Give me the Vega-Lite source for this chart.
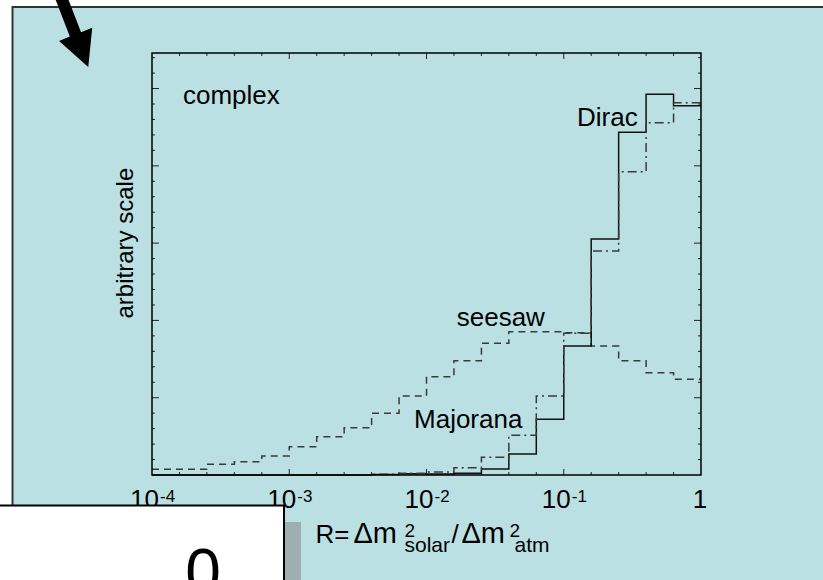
{
  "$schema": "https://vega.github.io/schema/vega-lite/v6.json",
  "width": 549,
  "height": 422,
  "autosize": "none",
  "padding": {"left": 152, "top": 53, "right": 122, "bottom": 105},
  "background": "white",
  "config": {"view": {"stroke": null}, "axis": {"disable": true}, "legend": {"disable": true}, "text": {"font": "Liberation Sans", "color": "black"}},
  "datasets": {
    "xminor": [{"v": 0.0001585}, {"v": 0.0002512}, {"v": 0.0003981}, {"v": 0.000631}, {"v": 0.001585}, {"v": 0.002512}, {"v": 0.003981}, {"v": 0.00631}, {"v": 0.01585}, {"v": 0.02512}, {"v": 0.03981}, {"v": 0.0631}, {"v": 0.1585}, {"v": 0.2512}, {"v": 0.3981}, {"v": 0.631}],
    "xmajor": [{"v": 0.001}, {"v": 0.01}, {"v": 0.1}],
    "yminor": [{"v": 0.2}, {"v": 0.4}, {"v": 0.6}, {"v": 0.8}, {"v": 1.2}, {"v": 1.4}, {"v": 1.6}, {"v": 1.8}, {"v": 2.2}, {"v": 2.4}, {"v": 2.6}, {"v": 2.8}, {"v": 3.2}, {"v": 3.4}, {"v": 3.6}, {"v": 3.8}, {"v": 4.2}, {"v": 4.4}, {"v": 4.6}, {"v": 4.8}, {"v": 5.2}, {"v": 5.4}],
    "ymajor": [{"v": 1}, {"v": 2}, {"v": 3}, {"v": 4}, {"v": 5}],
    "hist": [
      {"series": "seesaw", "x": 0.0001, "y": 0.074},
      {"series": "seesaw", "x": 0.0001585, "y": 0.074},
      {"series": "seesaw", "x": 0.0002512, "y": 0.138},
      {"series": "seesaw", "x": 0.0003981, "y": 0.172},
      {"series": "seesaw", "x": 0.000631, "y": 0.246},
      {"series": "seesaw", "x": 0.001, "y": 0.366},
      {"series": "seesaw", "x": 0.001585, "y": 0.496},
      {"series": "seesaw", "x": 0.002512, "y": 0.612},
      {"series": "seesaw", "x": 0.003981, "y": 0.798},
      {"series": "seesaw", "x": 0.00631, "y": 1.022},
      {"series": "seesaw", "x": 0.01, "y": 1.272},
      {"series": "seesaw", "x": 0.01585, "y": 1.479},
      {"series": "seesaw", "x": 0.02512, "y": 1.704},
      {"series": "seesaw", "x": 0.03981, "y": 1.854},
      {"series": "seesaw", "x": 0.0631, "y": 1.854},
      {"series": "seesaw", "x": 0.1, "y": 1.841},
      {"series": "seesaw", "x": 0.1585, "y": 1.669},
      {"series": "seesaw", "x": 0.2512, "y": 1.479},
      {"series": "seesaw", "x": 0.3981, "y": 1.324},
      {"series": "seesaw", "x": 0.631, "y": 1.238},
      {"series": "seesaw", "x": 1, "y": 1.238},
      {"series": "Dirac", "x": 0.0001, "y": 0},
      {"series": "Dirac", "x": 0.003981, "y": 0.005},
      {"series": "Dirac", "x": 0.00631, "y": 0.017},
      {"series": "Dirac", "x": 0.01, "y": 0.013},
      {"series": "Dirac", "x": 0.01585, "y": 0.022},
      {"series": "Dirac", "x": 0.02512, "y": 0.078},
      {"series": "Dirac", "x": 0.03981, "y": 0.272},
      {"series": "Dirac", "x": 0.0631, "y": 0.721},
      {"series": "Dirac", "x": 0.1, "y": 1.669},
      {"series": "Dirac", "x": 0.1585, "y": 3.053},
      {"series": "Dirac", "x": 0.2512, "y": 4.434},
      {"series": "Dirac", "x": 0.3981, "y": 4.926},
      {"series": "Dirac", "x": 0.631, "y": 4.778},
      {"series": "Dirac", "x": 1, "y": 4.778},
      {"series": "Majorana", "x": 0.0001, "y": 0},
      {"series": "Majorana", "x": 0.003981, "y": 0.01},
      {"series": "Majorana", "x": 0.00631, "y": 0.022},
      {"series": "Majorana", "x": 0.01, "y": 0.04},
      {"series": "Majorana", "x": 0.01585, "y": 0.094},
      {"series": "Majorana", "x": 0.02512, "y": 0.229},
      {"series": "Majorana", "x": 0.03981, "y": 0.514},
      {"series": "Majorana", "x": 0.0631, "y": 1.022},
      {"series": "Majorana", "x": 0.1, "y": 1.833},
      {"series": "Majorana", "x": 0.1585, "y": 2.898},
      {"series": "Majorana", "x": 0.2512, "y": 3.924},
      {"series": "Majorana", "x": 0.3981, "y": 4.558},
      {"series": "Majorana", "x": 0.631, "y": 4.817},
      {"series": "Majorana", "x": 1, "y": 4.817}
    ],
    "ticklabels": [
      {"v": 0.0001, "b": "10", "e": "-4"},
      {"v": 0.001, "b": "10", "e": "-3"},
      {"v": 0.01, "b": "10", "e": "-2"},
      {"v": 0.1, "b": "10", "e": "-1"}
    ],
    "notes": [
      {"t": "complex", "x": 0.000168, "y": 4.80},
      {"t": "Dirac", "x": 0.1249, "y": 4.519},
      {"t": "seesaw", "x": 0.0166, "y": 1.928},
      {"t": "Majorana", "x": 0.00811, "y": 0.612}
    ],
    "one": [{}]
  },
  "layer": [
    {
      "data": {"name": "one"},
      "mark": {"type": "rect", "fill": "#BBE0E3", "stroke": "#333333", "strokeWidth": 2},
      "encoding": {
        "x": {"datum": 0.00000963, "type": "quantitative", "scale": {"type": "log", "domain": [0.0001, 1]}},
        "x2": {"datum": 100},
        "y": {"datum": 6.055, "type": "quantitative", "scale": {"domain": [0, 5.46], "nice": false, "zero": false}},
        "y2": {"datum": -2}
      }
    },
    {
      "data": {"name": "xminor"},
      "mark": {"type": "rule", "color": "#222222", "strokeWidth": 1},
      "encoding": {
        "x": {"field": "v", "type": "quantitative", "scale": {"type": "log", "domain": [0.0001, 1]}},
        "y": {"datum": 0, "type": "quantitative", "scale": {"domain": [0, 5.46], "nice": false, "zero": false}},
        "y2": {"datum": 0.0388}
      }
    },
    {
      "data": {"name": "xminor"},
      "mark": {"type": "rule", "color": "#222222", "strokeWidth": 1},
      "encoding": {
        "x": {"field": "v", "type": "quantitative", "scale": {"type": "log", "domain": [0.0001, 1]}},
        "y": {"datum": 5.46, "type": "quantitative", "scale": {"domain": [0, 5.46], "nice": false, "zero": false}},
        "y2": {"datum": 5.4212}
      }
    },
    {
      "data": {"name": "xmajor"},
      "mark": {"type": "rule", "color": "#222222", "strokeWidth": 1},
      "encoding": {
        "x": {"field": "v", "type": "quantitative", "scale": {"type": "log", "domain": [0.0001, 1]}},
        "y": {"datum": 0, "type": "quantitative", "scale": {"domain": [0, 5.46], "nice": false, "zero": false}},
        "y2": {"datum": 0.0776}
      }
    },
    {
      "data": {"name": "xmajor"},
      "mark": {"type": "rule", "color": "#222222", "strokeWidth": 1},
      "encoding": {
        "x": {"field": "v", "type": "quantitative", "scale": {"type": "log", "domain": [0.0001, 1]}},
        "y": {"datum": 5.46, "type": "quantitative", "scale": {"domain": [0, 5.46], "nice": false, "zero": false}},
        "y2": {"datum": 5.3824}
      }
    },
    {
      "data": {"name": "yminor"},
      "mark": {"type": "rule", "color": "#222222", "strokeWidth": 1},
      "encoding": {
        "y": {"field": "v", "type": "quantitative", "scale": {"domain": [0, 5.46], "nice": false, "zero": false}},
        "x": {"datum": 0.0001, "type": "quantitative", "scale": {"type": "log", "domain": [0.0001, 1]}},
        "x2": {"datum": 0.00010516}
      }
    },
    {
      "data": {"name": "yminor"},
      "mark": {"type": "rule", "color": "#222222", "strokeWidth": 1},
      "encoding": {
        "y": {"field": "v", "type": "quantitative", "scale": {"domain": [0, 5.46], "nice": false, "zero": false}},
        "x": {"datum": 1, "type": "quantitative", "scale": {"type": "log", "domain": [0.0001, 1]}},
        "x2": {"datum": 0.9509}
      }
    },
    {
      "data": {"name": "ymajor"},
      "mark": {"type": "rule", "color": "#222222", "strokeWidth": 1},
      "encoding": {
        "y": {"field": "v", "type": "quantitative", "scale": {"domain": [0, 5.46], "nice": false, "zero": false}},
        "x": {"datum": 0.0001, "type": "quantitative", "scale": {"type": "log", "domain": [0.0001, 1]}},
        "x2": {"datum": 0.00011246}
      }
    },
    {
      "data": {"name": "ymajor"},
      "mark": {"type": "rule", "color": "#222222", "strokeWidth": 1},
      "encoding": {
        "y": {"field": "v", "type": "quantitative", "scale": {"domain": [0, 5.46], "nice": false, "zero": false}},
        "x": {"datum": 1, "type": "quantitative", "scale": {"type": "log", "domain": [0.0001, 1]}},
        "x2": {"datum": 0.8892}
      }
    },
    {
      "data": {"name": "hist"},
      "mark": {"type": "line", "interpolate": "step-after", "strokeWidth": 1.5},
      "encoding": {
        "x": {"field": "x", "type": "quantitative", "scale": {"type": "log", "domain": [0.0001, 1]}},
        "y": {"field": "y", "type": "quantitative", "scale": {"domain": [0, 5.46], "nice": false, "zero": false}},
        "color": {"field": "series", "type": "nominal", "scale": {"domain": ["seesaw", "Dirac", "Majorana"], "range": ["#3a3a3a", "#111111", "#3a3a3a"]}, "legend": null},
        "strokeDash": {"field": "series", "type": "nominal", "scale": {"domain": ["seesaw", "Dirac", "Majorana"], "range": [[7, 5], [1, 0], [9, 4, 2, 4]]}, "legend": null}
      }
    },
    {
      "data": {"name": "one"},
      "mark": {"type": "rect", "fill": null, "fillOpacity": 0, "stroke": "black", "strokeWidth": 1.5},
      "encoding": {
        "x": {"datum": 0.0001, "type": "quantitative", "scale": {"type": "log", "domain": [0.0001, 1]}},
        "x2": {"datum": 1},
        "y": {"datum": 0, "type": "quantitative", "scale": {"domain": [0, 5.46], "nice": false, "zero": false}},
        "y2": {"datum": 5.46}
      }
    },
    {
      "data": {"name": "notes"},
      "mark": {"type": "text", "align": "left", "baseline": "alphabetic", "fontSize": 26},
      "encoding": {
        "x": {"field": "x", "type": "quantitative", "scale": {"type": "log", "domain": [0.0001, 1]}},
        "y": {"field": "y", "type": "quantitative", "scale": {"domain": [0, 5.46], "nice": false, "zero": false}},
        "text": {"field": "t"}
      }
    },
    {
      "data": {"name": "ticklabels"},
      "mark": {"type": "text", "align": "right", "baseline": "alphabetic", "fontSize": 26, "dx": 7, "dy": 33},
      "encoding": {
        "x": {"field": "v", "type": "quantitative", "scale": {"type": "log", "domain": [0.0001, 1]}},
        "y": {"datum": 0, "type": "quantitative", "scale": {"domain": [0, 5.46], "nice": false, "zero": false}},
        "text": {"field": "b"}
      }
    },
    {
      "data": {"name": "ticklabels"},
      "mark": {"type": "text", "align": "left", "baseline": "alphabetic", "fontSize": 17, "dx": 8, "dy": 27},
      "encoding": {
        "x": {"field": "v", "type": "quantitative", "scale": {"type": "log", "domain": [0.0001, 1]}},
        "y": {"datum": 0, "type": "quantitative", "scale": {"domain": [0, 5.46], "nice": false, "zero": false}},
        "text": {"field": "e"}
      }
    },
    {
      "data": {"name": "one"},
      "mark": {"type": "text", "align": "center", "baseline": "alphabetic", "fontSize": 26, "dx": -1, "dy": 33, "text": "1"},
      "encoding": {
        "x": {"datum": 1, "type": "quantitative", "scale": {"type": "log", "domain": [0.0001, 1]}},
        "y": {"datum": 0, "type": "quantitative", "scale": {"domain": [0, 5.46], "nice": false, "zero": false}}
      }
    },
    {
      "data": {"name": "one"},
      "mark": {"type": "text", "align": "center", "baseline": "alphabetic", "fontSize": 24, "angle": 270, "text": "arbitrary scale"},
      "encoding": {
        "x": {"datum": 0.0000727, "type": "quantitative", "scale": {"type": "log", "domain": [0.0001, 1]}},
        "y": {"datum": 3.0, "type": "quantitative", "scale": {"domain": [0, 5.46], "nice": false, "zero": false}}
      }
    },
    {
      "data": {"name": "one"},
      "mark": {"type": "text", "align": "left", "baseline": "alphabetic", "fontSize": 26, "dx": -111, "dy": 68, "text": "R="},
      "encoding": {
        "x": {"datum": 0.01, "type": "quantitative", "scale": {"type": "log", "domain": [0.0001, 1]}},
        "y": {"datum": 0, "type": "quantitative", "scale": {"domain": [0, 5.46], "nice": false, "zero": false}}
      }
    },
    {
      "data": {"name": "one"},
      "mark": {"type": "text", "align": "left", "baseline": "alphabetic", "fontSize": 29, "dx": -73, "dy": 68, "text": "Δm"},
      "encoding": {
        "x": {"datum": 0.01, "type": "quantitative", "scale": {"type": "log", "domain": [0.0001, 1]}},
        "y": {"datum": 0, "type": "quantitative", "scale": {"domain": [0, 5.46], "nice": false, "zero": false}}
      }
    },
    {
      "data": {"name": "one"},
      "mark": {"type": "text", "align": "left", "baseline": "alphabetic", "fontSize": 19, "dx": -22, "dy": 62, "text": "2"},
      "encoding": {
        "x": {"datum": 0.01, "type": "quantitative", "scale": {"type": "log", "domain": [0.0001, 1]}},
        "y": {"datum": 0, "type": "quantitative", "scale": {"domain": [0, 5.46], "nice": false, "zero": false}}
      }
    },
    {
      "data": {"name": "one"},
      "mark": {"type": "text", "align": "left", "baseline": "alphabetic", "fontSize": 21, "dx": -22, "dy": 77, "text": "solar"},
      "encoding": {
        "x": {"datum": 0.01, "type": "quantitative", "scale": {"type": "log", "domain": [0.0001, 1]}},
        "y": {"datum": 0, "type": "quantitative", "scale": {"domain": [0, 5.46], "nice": false, "zero": false}}
      }
    },
    {
      "data": {"name": "one"},
      "mark": {"type": "text", "align": "left", "baseline": "alphabetic", "fontSize": 26, "dx": 25, "dy": 68, "text": "/"},
      "encoding": {
        "x": {"datum": 0.01, "type": "quantitative", "scale": {"type": "log", "domain": [0.0001, 1]}},
        "y": {"datum": 0, "type": "quantitative", "scale": {"domain": [0, 5.46], "nice": false, "zero": false}}
      }
    },
    {
      "data": {"name": "one"},
      "mark": {"type": "text", "align": "left", "baseline": "alphabetic", "fontSize": 29, "dx": 35, "dy": 68, "text": "Δm"},
      "encoding": {
        "x": {"datum": 0.01, "type": "quantitative", "scale": {"type": "log", "domain": [0.0001, 1]}},
        "y": {"datum": 0, "type": "quantitative", "scale": {"domain": [0, 5.46], "nice": false, "zero": false}}
      }
    },
    {
      "data": {"name": "one"},
      "mark": {"type": "text", "align": "left", "baseline": "alphabetic", "fontSize": 19, "dx": 83, "dy": 62, "text": "2"},
      "encoding": {
        "x": {"datum": 0.01, "type": "quantitative", "scale": {"type": "log", "domain": [0.0001, 1]}},
        "y": {"datum": 0, "type": "quantitative", "scale": {"domain": [0, 5.46], "nice": false, "zero": false}}
      }
    },
    {
      "data": {"name": "one"},
      "mark": {"type": "text", "align": "left", "baseline": "alphabetic", "fontSize": 21, "dx": 88, "dy": 77, "text": "atm"},
      "encoding": {
        "x": {"datum": 0.01, "type": "quantitative", "scale": {"type": "log", "domain": [0.0001, 1]}},
        "y": {"datum": 0, "type": "quantitative", "scale": {"domain": [0, 5.46], "nice": false, "zero": false}}
      }
    },
    {
      "data": {"name": "one"},
      "mark": {"type": "rect", "fill": "white", "stroke": "black", "strokeWidth": 2},
      "encoding": {
        "x": {"datum": 0.000007, "type": "quantitative", "scale": {"type": "log", "domain": [0.0001, 1]}},
        "x2": {"datum": 0.0009155},
        "y": {"datum": -0.3946, "type": "quantitative", "scale": {"domain": [0, 5.46], "nice": false, "zero": false}},
        "y2": {"datum": -2}
      }
    },
    {
      "data": {"name": "one"},
      "mark": {"type": "rect", "fill": "#9DAFB2"},
      "encoding": {
        "x": {"datum": 0.000931, "type": "quantitative", "scale": {"type": "log", "domain": [0.0001, 1]}},
        "x2": {"datum": 0.001218},
        "y": {"datum": -0.608, "type": "quantitative", "scale": {"domain": [0, 5.46], "nice": false, "zero": false}},
        "y2": {"datum": -2}
      }
    },
    {
      "data": {"name": "one"},
      "mark": {"type": "text", "align": "center", "baseline": "alphabetic", "fontSize": 64, "dx": 51, "dy": 119, "text": "0"},
      "encoding": {
        "x": {"datum": 0.0001, "type": "quantitative", "scale": {"type": "log", "domain": [0.0001, 1]}},
        "y": {"datum": 0, "type": "quantitative", "scale": {"domain": [0, 5.46], "nice": false, "zero": false}}
      }
    },
    {
      "data": {"name": "one"},
      "mark": {"type": "point", "filled": true, "color": "black", "opacity": 1, "size": 6400, "strokeWidth": 0, "shape": "M -0.49 -0.89 L -0.21 -1 L 0.15 -0.07 L 0.43 -0.18 L 0.33 0.8 L -0.4 0.15 L -0.13 0.04 Z"},
      "encoding": {
        "x": {"datum": 0.0000275, "type": "quantitative", "scale": {"type": "log", "domain": [0.0001, 1]}},
        "y": {"datum": 5.693, "type": "quantitative", "scale": {"domain": [0, 5.46], "nice": false, "zero": false}}
      }
    }
  ]
}
